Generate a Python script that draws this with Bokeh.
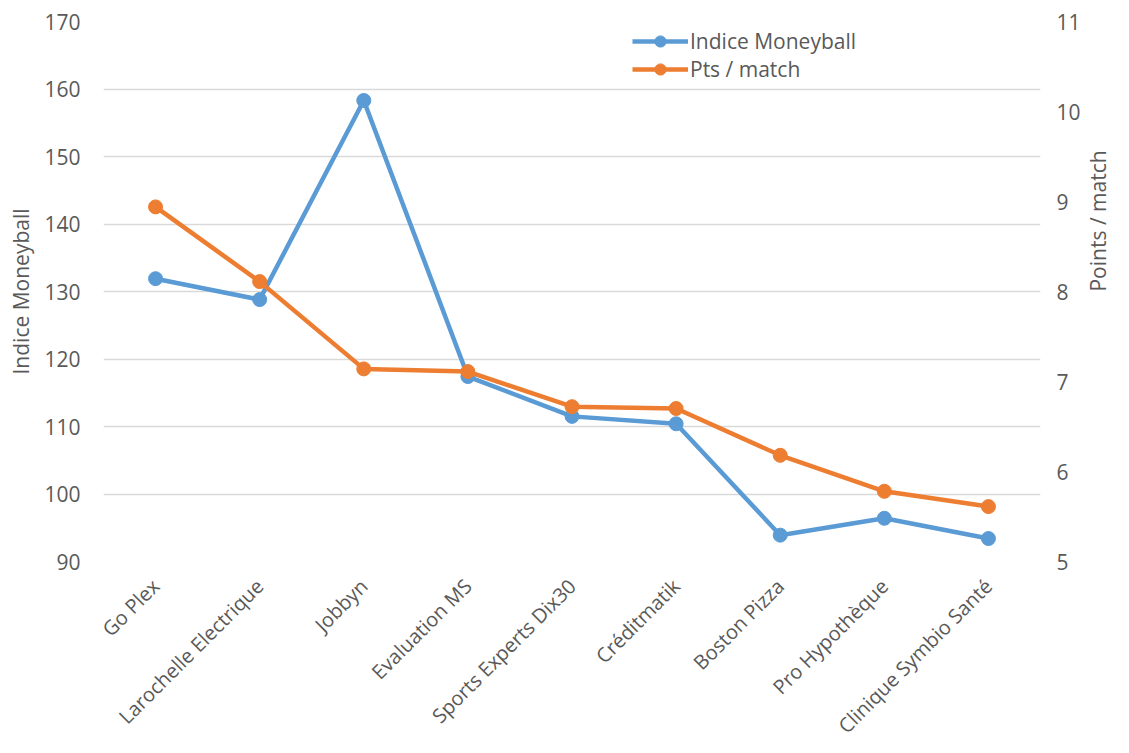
from bokeh.plotting import figure
from bokeh.models import Range1d, FactorRange, LinearAxis, FixedTicker, Legend, LegendItem
from bokeh.embed import file_html
from bokeh.resources import INLINE
import math

categories = ["Go Plex", "Larochelle Electrique", "Jobbyn", "Evaluation MS",
              "Sports Experts Dix30", "Créditmatik", "Boston Pizza",
              "Pro Hypothèque", "Clinique Symbio Santé"]
moneyball = [131.9, 128.8, 158.3, 117.4, 111.5, 110.4, 93.9, 96.4, 93.4]
pts_match = [8.94, 8.11, 7.14, 7.11, 6.72, 6.70, 6.18, 5.78, 5.61]
left_ticks = [90, 100, 110, 120, 130, 140, 150, 160, 170]
right_ticks = [5, 6, 7, 8, 9, 10, 11]

FONT = "Open Sans"
TXT = "#595959"
BLUE = "#5B9BD5"
ORANGE = "#ED7D31"
FS = "21px"

p = figure(width=1129, height=753, x_range=FactorRange(*categories, range_padding=0),
           y_range=Range1d(90, 170), output_backend="svg", toolbar_location=None,
           min_border_left=103, min_border_right=89, min_border_top=21, min_border_bottom=192)
p.outline_line_color = None
p.extra_y_ranges = {"right": Range1d(5, 11)}

# left axis
ax = p.yaxis[0]
ax.ticker = FixedTicker(ticks=left_ticks)
ax.axis_label = "Indice Moneyball"
ax.axis_line_color = None
ax.major_tick_line_color = None
ax.minor_tick_line_color = None
ax.major_tick_out = 0
ax.major_tick_in = 0
ax.major_label_standoff = 23
ax.axis_label_standoff = 6
ax.major_label_text_font = FONT
ax.major_label_text_font_size = FS
ax.major_label_text_color = TXT
ax.axis_label_text_font = FONT
ax.axis_label_text_font_size = FS
ax.axis_label_text_color = TXT
ax.axis_label_text_font_style = "normal"

# right axis
rax = LinearAxis(y_range_name="right", ticker=FixedTicker(ticks=right_ticks),
                 axis_label="Points / match")
rax.axis_line_color = None
rax.major_tick_line_color = None
rax.minor_tick_line_color = None
rax.major_tick_out = 0
rax.major_tick_in = 0
rax.major_label_standoff = 16
rax.axis_label_standoff = 14
rax.axis_label_orientation = math.pi / 2
rax.major_label_text_font = FONT
rax.major_label_text_font_size = FS
rax.major_label_text_color = TXT
rax.axis_label_text_font = FONT
rax.axis_label_text_font_size = FS
rax.axis_label_text_color = TXT
rax.axis_label_text_font_style = "normal"
p.add_layout(rax, "right")

# bottom axis
bx = p.xaxis[0]
bx.axis_line_color = None
bx.major_tick_line_color = None
bx.minor_tick_line_color = None
bx.major_tick_out = 0
bx.major_tick_in = 0
bx.major_label_orientation = math.pi / 4
bx.major_label_standoff = 21
bx.major_label_text_font = FONT
bx.major_label_text_font_size = "20px"
bx.major_label_text_color = TXT

p.xgrid.grid_line_color = None
p.ygrid.grid_line_color = "#D9D9D9"
p.ygrid.grid_line_width = 1.5

l1 = p.line(categories, moneyball, line_color=BLUE, line_width=4.5)
s1 = p.scatter(categories, moneyball, size=14, fill_color=BLUE, line_color=BLUE)
l2 = p.line(categories, pts_match, line_color=ORANGE, line_width=4.5, y_range_name="right")
s2 = p.scatter(categories, pts_match, size=14, fill_color=ORANGE, line_color=ORANGE,
               y_range_name="right")

legend = Legend(items=[LegendItem(label="Indice Moneyball", renderers=[l1, s1]),
                       LegendItem(label="Pts / match", renderers=[l2, s2])],
                location=(529, 478), padding=0, margin=0, spacing=0,
                glyph_width=56, glyph_height=28, label_height=28, label_standoff=2,
                background_fill_alpha=0, border_line_color=None,
                label_text_font=FONT, label_text_font_size=FS, label_text_color=TXT)
p.add_layout(legend)

open("out.html", "w").write(file_html(p, INLINE))
